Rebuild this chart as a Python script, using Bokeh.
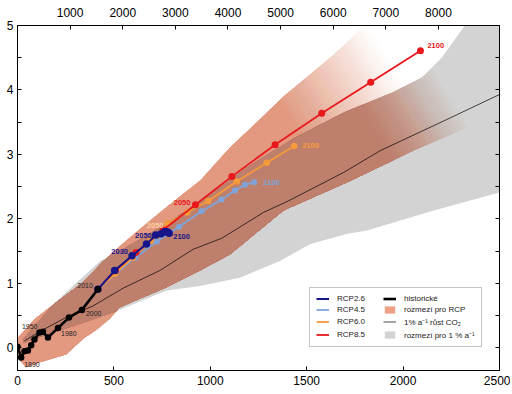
import numpy as np
from bokeh.plotting import figure
from bokeh.models import (Range1d, LinearAxis, FixedTicker, Legend, LegendItem,
                          ColumnDataSource)
from bokeh.core.properties import value
from bokeh.embed import file_html
from bokeh.resources import INLINE

# ---------------- data (cumulative CO2 since 1870 [GtC], warming [°C]) ----------------
hist_x = [0, 19, 36, 54, 71, 88, 114, 132, 158, 210, 267, 334, 417]
hist_y = [0.02, -0.15, -0.05, -0.04, 0.04, 0.13, 0.24, 0.25, 0.16, 0.31, 0.47, 0.59, 0.91]

rcp26_x = [417, 504, 594, 669, 717, 745, 763, 775, 782, 787]
rcp26_y = [0.91, 1.20, 1.43, 1.61, 1.75, 1.77, 1.80, 1.80, 1.79, 1.78]
rcp45_x = [417, 508, 612, 722, 838, 955, 1059, 1128, 1180, 1227]
rcp45_y = [0.91, 1.15, 1.40, 1.65, 1.88, 2.12, 2.30, 2.44, 2.53, 2.57]
rcp60_x = [417, 505, 598, 690, 778, 880, 989, 1137, 1293, 1435]
rcp60_y = [0.91, 1.15, 1.40, 1.66, 1.93, 2.10, 2.28, 2.58, 2.87, 3.13]
rcp85_x = [417, 508, 615, 755, 923, 1112, 1336, 1578, 1832, 2090]
rcp85_y = [0.91, 1.20, 1.48, 1.83, 2.22, 2.66, 3.15, 3.64, 4.12, 4.61]

pct_line_x = [36, 132, 250, 391, 550, 738, 911, 1059, 1275, 1405, 1691, 1882, 2211, 2500]
pct_line_y = [0.11, 0.28, 0.47, 0.65, 0.93, 1.20, 1.53, 1.70, 2.10, 2.28, 2.72, 3.06, 3.52, 3.93]

# range of the 1 %/yr CO2 runs (grey)
pct_lo_x = [30, 200, 350, 513, 773, 946, 1154, 1362, 1518, 1709, 1812, 2158, 2500]
pct_lo_y = [0.08, 0.25, 0.40, 0.57, 0.89, 0.96, 1.09, 1.35, 1.61, 1.77, 1.82, 2.13, 2.41]
pct_hi_x = [30, 200, 320, 430, 600, 800, 1000, 1200, 1450, 1700, 1950, 2100, 2200, 2320, 2500]
pct_hi_y = [0.14, 0.72, 1.05, 1.35, 1.62, 1.98, 2.38, 2.82, 3.28, 3.66, 3.97, 4.20, 4.50, 5.00, 5.50]

# range of the RCP runs (salmon)
rcp_lo_x = [0, 45, 120, 253, 340, 409, 478, 530, 773, 946, 1102, 1379, 1726, 2054, 2400]
rcp_lo_y = [-0.15, -0.30, -0.22, -0.10, 0.14, 0.28, 0.45, 0.63, 0.94, 1.20, 1.45, 2.13, 2.59, 3.06, 3.50]
rcp_hi_x = [0, 90, 220, 340, 440, 520, 650, 780, 950, 1100, 1260, 1380, 1640, 1800, 1950, 2400]
rcp_hi_y = [0.15, 0.45, 0.75, 1.02, 1.33, 1.55, 1.88, 2.20, 2.60, 3.10, 3.55, 3.90, 4.55, 5.00, 5.40, 6.50]

x_ticks = [0, 500, 1000, 1500, 2000, 2500]
y_ticks = [0, 1, 2, 3, 4, 5]
y_minor = [0.5, 1.5, 2.5, 3.5, 4.5]
top_ticks = [1000, 2000, 3000, 4000, 5000, 6000, 7000, 8000]
GTC_TO_GTCO2 = 3.664

legend_labels = ["RCP2.6", "RCP4.5", "RCP6.0", "RCP8.5",
                 "historické", "rozmezí pro RCP", "1% a⁻¹ růst CO₂", "rozmezí pro 1 % a⁻¹"]

# ---------------- style ----------------
FONT = "Liberation Sans"
C26, C45, C60, C85 = "#16168a", "#7ea4da", "#f59a3a", "#e8181c"
C_SALMON, C_BROWN, C_GREY = "#ef9f85", "#c48474", "#d3d3d3"

p = figure(width=510, height=392, output_backend="svg", toolbar_location=None,
           x_range=Range1d(0, 2500), y_range=Range1d(-0.35, 5),
           min_border_left=17, min_border_right=11, min_border_top=25, min_border_bottom=22,
           x_axis_location=None, y_axis_location=None, background_fill_color="white")
p.grid.visible = False
p.outline_line_color = "black"
p.outline_line_width = 1
p.extra_x_ranges = {"co2": Range1d(0, 2500 * GTC_TO_GTCO2)}

# ---------------- shaded ranges ----------------
K = 208.0  # slant of the fade (GtC per °C)
xg = np.linspace(0, 2500, 1251)

def band(lo_x, lo_y, hi_x, hi_y):
    x0 = max(lo_x[0], hi_x[0]); x1 = min(lo_x[-1], hi_x[-1])
    lo = np.interp(xg, lo_x, lo_y); hi = np.interp(xg, hi_x, hi_y)
    inside = (xg >= x0) & (xg <= x1)
    return np.where(inside, lo, np.nan), np.where(inside, hi, np.nan)

def polys(lo, hi, tmax=None):
    if tmax is not None:
        hi = np.minimum(hi, (tmax - xg) / K)
    ok = np.isfinite(lo) & np.isfinite(hi) & (hi > lo)
    out_x, out_y = [], []
    idx = np.flatnonzero(ok)
    if len(idx) < 2:
        return out_x, out_y
    for run in np.split(idx, np.flatnonzero(np.diff(idx) > 1) + 1):
        if len(run) < 2:
            continue
        out_x.append(np.concatenate([xg[run], xg[run][::-1]]).tolist())
        out_y.append(np.concatenate([hi[run], lo[run][::-1]]).tolist())
    return out_x, out_y

g_lo, g_hi = band(pct_lo_x, pct_lo_y, pct_hi_x, pct_hi_y)
r_lo, r_hi = band(rcp_lo_x, rcp_lo_y, rcp_hi_x, rcp_hi_y)
o_lo = np.maximum(g_lo, r_lo)
o_hi = np.minimum(g_hi, r_hi)

gx, gy = polys(g_lo, g_hi)
p.patches(gx, gy, fill_color=C_GREY, line_color=None)

def faded(lo, hi, t0, t1, color, n=30):
    xs, ys, al = [], [], []
    for j, t in enumerate(np.linspace(t0, t1, n), start=1):
        px, py = polys(lo, hi, t)
        xs += px; ys += py; al += [1.0 / j] * len(px)
    src = ColumnDataSource(dict(xs=xs, ys=ys, a=al))
    p.patches("xs", "ys", source=src, fill_color=color, fill_alpha="a", line_color=None)

faded(r_lo, r_hi, 2150, 2850, C_SALMON)
faded(o_lo, o_hi, 2550, 3050, C_BROWN)

# ---------------- lines ----------------
r_pct = p.line(pct_line_x, pct_line_y, line_color="black", line_width=0.7)

r45 = p.line(rcp45_x, rcp45_y, line_color=C45, line_width=1.8)
p.scatter(rcp45_x, rcp45_y, size=6, fill_color=C45, line_color=None)
r60 = p.line(rcp60_x, rcp60_y, line_color=C60, line_width=1.8)
p.scatter(rcp60_x, rcp60_y, size=6.5, fill_color=C60, line_color=None)
r85 = p.line(rcp85_x, rcp85_y, line_color=C85, line_width=1.8)
p.scatter(rcp85_x, rcp85_y, size=7, fill_color=C85, line_color=None)
r26 = p.line(rcp26_x, rcp26_y, line_color=C26, line_width=2)
p.scatter(rcp26_x, rcp26_y, size=7.5, fill_color=C26, line_color=None)
rh = p.line(hist_x, hist_y, line_color="black", line_width=2.6)
p.scatter(hist_x, hist_y, size=6.5, fill_color="black", line_color=None)

# ---------------- year labels ----------------
def labels(xs, ys, idx, texts, dx, dy, align, color, bold=True, size="7.5px"):
    src = ColumnDataSource(dict(x=[xs[i] for i in idx], y=[ys[i] for i in idx],
                                t=texts, dx=dx, dy=dy))
    p.text("x", "y", text="t", x_offset="dx", y_offset="dy", source=src,
           text_align=align, text_baseline="middle", text_font=value(FONT),
           text_font_size=size, text_color=color,
           text_font_style="bold" if bold else "normal")

labels(hist_x, hist_y, [1, 9, 11], ["1890", "1980", "2000"], [3, 3, 4], [7, 6, 4],
       "left", "#222222", bold=False, size="7px")
labels(hist_x, hist_y, [6, 12], ["1950", "2010"], [-2, -5], [-6, -4],
       "right", "#222222", bold=False, size="7px")
labels(rcp26_x, rcp26_y, [2, 4], ["2030", "2050"], [-4, -4], [-4.5, 0], "right", C26)
labels(rcp26_x, rcp26_y, [9], ["2100"], [4], [3], "left", C26)
labels(rcp60_x, rcp60_y, [4], ["2050"], [-4], [2], "right", "#fcd0a0")
labels(rcp60_x, rcp60_y, [9], ["2100"], [8], [-1], "left", C60)
labels(rcp85_x, rcp85_y, [4], ["2050"], [-5], [-2], "right", C85)
labels(rcp85_x, rcp85_y, [9], ["2100"], [7], [-5], "left", C85)
labels(rcp45_x, rcp45_y, [9], ["2100"], [9], [0], "left", C45)

# ---------------- axes ----------------
def style(ax, size="12px", standoff=3):
    ax.axis_line_color = "black"
    ax.major_tick_in = 4
    ax.major_tick_out = 0
    ax.minor_tick_in = 4
    ax.minor_tick_out = 0
    ax.major_tick_line_color = "black"
    ax.minor_tick_line_color = "black"
    ax.major_label_text_font = FONT
    ax.major_label_text_font_size = size
    ax.major_label_text_color = "black"
    ax.major_label_standoff = standoff

bottom = LinearAxis(ticker=FixedTicker(ticks=x_ticks))
style(bottom, standoff=5)
p.add_layout(bottom, "below")

left = LinearAxis(ticker=FixedTicker(ticks=y_ticks, minor_ticks=y_minor))
style(left, standoff=4)
p.add_layout(left, "left")

right = LinearAxis(ticker=FixedTicker(ticks=y_ticks, minor_ticks=y_minor),
                   major_label_overrides={t: "" for t in y_ticks})
style(right, standoff=0)
p.add_layout(right, "right")

top = LinearAxis(x_range_name="co2", ticker=FixedTicker(ticks=top_ticks))
style(top, standoff=9)
p.add_layout(top, "above")

# ---------------- legend ----------------
d_rcp = p.quad(left=[-500], right=[-400], top=[-5], bottom=[-6], fill_color=C_SALMON, line_color=None)
d_pct = p.quad(left=[-500], right=[-400], top=[-5], bottom=[-6], fill_color=C_GREY, line_color=None)
d_hist = p.line([-500, -400], [-5, -5], line_color="black", line_width=2.6)
rend = [r26, r45, r60, r85, d_hist, d_rcp, r_pct, d_pct]
legend = Legend(items=[LegendItem(label=l, renderers=[r]) for l, r in zip(legend_labels, rend)],
                ncols=2, location=(292, 23), margin=0, padding=6, spacing=2,
                glyph_width=13, glyph_height=9, label_height=9, label_standoff=8,
                label_width=44, label_text_font=FONT, label_text_font_size="8px",
                label_text_color="#222222", border_line_color="#8a8a8a",
                border_line_width=1, background_fill_color="white", background_fill_alpha=1)
p.add_layout(legend, "center")

open("out.html", "w").write(file_html(p, INLINE))
